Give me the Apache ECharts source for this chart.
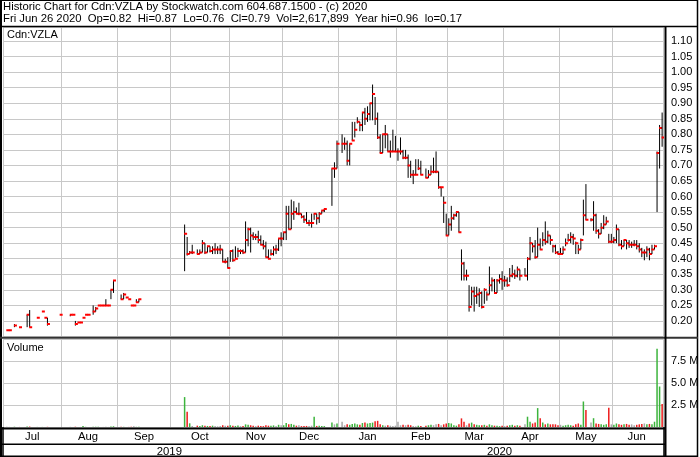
<!DOCTYPE html>
<html>
<head>
<meta charset="utf-8">
<script src="https://cdn.jsdelivr.net/npm/echarts@6/dist/echarts.min.js"></script>
<style>html,body{margin:0;padding:0;background:#fff}#c{width:700px;height:457px}</style>
</head>
<body>
<div id="c"></div>
<script>
// ---- data (one entry per weekday, 2019-07-01 .. 2020-06-26; null = no trade / holiday) ----
const startDate = '2019-07-01';
const endDate = '2020-06-26';
const monthNames = ['Jan','Feb','Mar','Apr','May','Jun','Jul','Aug','Sep','Oct','Nov','Dec'];

const highs = [
  /*Jul*/ null,.17,.17,null,.19,null,.18,null,null,.22,.235,null,null,.21,null,.23,.21,.21,null,null,null,null,.22,
  /*Aug*/ null,null,null,.22,.22,.20,.195,.195,.21,.22,.22,null,.25,.245,.25,.25,.25,.27,.25,.30,.33,null,
  /*Sep*/ null,.285,.29,.275,.27,.25,.25,.27,.27,null,null,null,null,null,null,null,null,null,null,null,null,
  /*Oct*/ null,null,null,null,null,.51,.47,.425,.445,null,.43,.43,.46,.45,.44,.44,.44,.45,.44,.445,.43,.40,.405,
  /*Nov*/ .425,.43,.44,.435,.43,.43,.52,.50,.50,.485,.48,.49,.475,.46,.455,.43,.43,.44,.445,.465,.485,
  /*Dec*/ .485,.57,.57,.59,.585,.565,.58,.545,.54,.55,.525,.545,.545,.545,.55,.555,.56,null,null,.69,.71,.78,
  /*Jan*/ null,.80,.79,.78,.77,.84,.84,.855,.84,.87,.885,.89,.90,.96,.92,.87,.80,.80,.83,.80,.78,.815,.795,
  /*Feb*/ .755,.79,.75,.75,.735,.715,.685,.72,.72,.715,null,.69,.685,.70,.725,.745,.68,.63,.60,.545,
  /*Mar*/ .53,.57,.545,.55,.55,.43,.39,.365,.315,.31,.31,.31,.305,.295,.305,.295,.375,.34,.335,.335,.35,.36,
  /*Apr*/ .345,.34,.37,.38,.365,.375,.365,null,.37,.405,.47,.45,.46,.50,.465,.485,.52,.49,.475,.445,.445,.425,
  /*May*/ .435,.44,.465,.48,.485,.48,.455,.445,.465,.59,.64,null,.53,.585,.545,.495,.515,.54,.535,.48,.48,
  /*Jun*/ .47,.51,.495,.46,.46,.46,.46,.455,.46,.46,.45,.435,.43,.44,.435,.445,.445,.745,.83,.87
];
const lows = [
  /*Jul*/ null,.17,.17,null,.18,null,.18,null,null,.18,.18,null,null,.21,null,.23,.21,.185,null,null,null,null,.22,
  /*Aug*/ null,null,null,.215,.22,.185,.195,.195,.21,.22,.22,null,.22,.23,.25,.25,.25,.25,.25,.27,.29,null,
  /*Sep*/ null,.27,.27,.275,.27,.25,.25,.26,.26,null,null,null,null,null,null,null,null,null,null,null,null,
  /*Oct*/ null,null,null,null,null,.36,.41,.415,.415,null,.415,.415,.42,.415,.42,.42,.415,.415,.415,.415,.39,.385,.37,
  /*Nov*/ .39,.39,.40,.405,.415,.415,.42,.44,.42,.46,.46,.45,.445,.43,.405,.40,.41,.41,.415,.425,.44,
  /*Dec*/ .46,.46,.495,.495,.525,.545,.54,.53,.515,.515,.505,.50,.525,.51,.515,.545,.55,null,null,.57,.66,.69,
  /*Jan*/ null,.74,.75,.70,.70,.78,.79,.835,.81,.81,.83,.84,.845,.845,.83,.785,.74,.74,.755,.745,.725,.745,.745,
  /*Feb*/ .715,.735,.72,.72,.66,.66,.64,.67,.685,.67,null,.66,.66,.67,.675,.675,.625,.60,.515,.475,
  /*Mar*/ .475,.49,.525,.535,.485,.33,.33,.33,.23,.25,.23,.255,.245,.24,.255,.265,.285,.295,.29,.29,.32,.30,
  /*Apr*/ .31,.31,.325,.34,.335,.34,.33,null,.345,.33,.395,.42,.40,.405,.43,.44,.445,.45,.445,.42,.415,.415,
  /*May*/ .415,.415,.44,.455,.45,.445,.415,.415,.43,.475,.525,null,.52,.49,.48,.465,.48,.495,.51,.45,.45,
  /*Jun*/ .45,.45,.44,.43,.44,.43,.435,.435,.44,.43,.42,.405,.395,.405,.395,.415,.43,.55,.69,.76
];
const closes = [
  /*Jul*/ null,.17,.17,null,.185,null,.18,null,null,.22,.18,null,null,.21,null,.23,.21,.19,null,null,null,null,.22,
  /*Aug*/ null,null,null,.22,.22,.19,.195,.195,.21,.22,.22,null,.23,.24,.25,.25,.25,.25,.25,.30,.33,null,
  /*Sep*/ null,.27,.285,.275,.27,.25,.25,.26,.27,null,null,null,null,null,null,null,null,null,null,null,null,
  /*Oct*/ null,null,null,null,null,.48,.415,.42,.42,null,.415,.42,.45,.42,.44,.425,.43,.43,.43,.43,.39,.39,.37,
  /*Nov*/ .425,.395,.40,.425,.425,.42,.46,.495,.475,.47,.47,.46,.445,.44,.405,.40,.415,.43,.43,.465,.465,
  /*Dec*/ .485,.545,.495,.545,.55,.545,.545,.535,.525,.515,.515,.515,.545,.53,.545,.555,.56,null,null,.69,.69,.77,
  /*Jan*/ null,.77,.77,.715,.77,.78,.815,.84,.83,.87,.85,.865,.90,.93,.85,.79,.74,.80,.80,.745,.745,.745,.745,
  /*Feb*/ .745,.745,.725,.725,.70,.67,.67,.67,.69,.67,null,.66,.67,.68,.68,.68,.63,.63,.58,.475,
  /*Mar*/ .51,.53,.54,.55,.485,.385,.345,.345,.245,.295,.28,.285,.29,.245,.30,.285,.315,.33,.29,.33,.335,.33,
  /*Apr*/ .33,.315,.345,.35,.345,.365,.345,null,.345,.40,.45,.44,.405,.445,.43,.46,.455,.475,.46,.44,.42,.415,
  /*May*/ .415,.43,.45,.46,.47,.465,.45,.43,.46,.54,.525,null,.525,.54,.49,.48,.50,.51,.52,.455,.455,
  /*Jun*/ .46,.495,.445,.44,.46,.45,.445,.445,.445,.44,.43,.42,.42,.43,.415,.43,.44,.74,.82,.79
];
const volumes = [
  /*Jul*/ null,20000,15000,null,30000,null,10000,null,null,60000,50000,null,null,10000,null,10000,10000,20000,null,null,null,null,10000,
  /*Aug*/ null,null,null,20000,10000,30000,10000,10000,100000,20000,10000,null,40000,30000,20000,10000,10000,40000,10000,60000,80000,null,
  /*Sep*/ null,30000,20000,10000,10000,30000,90000,20000,20000,null,null,null,null,null,null,null,null,null,null,null,null,
  /*Oct*/ null,null,null,null,null,3400000,1730000,420000,120000,null,150000,100000,200000,150000,120000,100000,150000,120000,80000,100000,200000,150000,150000,
  /*Nov*/ 200000,150000,120000,180000,100000,120000,300000,250000,200000,150000,100000,150000,120000,100000,200000,150000,150000,180000,100000,250000,200000,
  /*Dec*/ 200000,450000,300000,350000,250000,150000,200000,100000,100000,120000,100000,150000,1170000,120000,150000,120000,100000,null,null,500000,300000,400000,
  /*Jan*/ null,600000,200000,300000,250000,350000,400000,300000,250000,450000,500000,400000,450000,500000,650000,700000,300000,200000,150000,200000,150000,100000,150000,
  /*Feb*/ 600000,200000,250000,200000,250000,200000,100000,80000,150000,100000,null,150000,200000,250000,200000,300000,350000,200000,300000,400000,
  /*Mar*/ 450000,400000,200000,150000,300000,980000,600000,200000,400000,500000,300000,250000,200000,200000,250000,150000,300000,200000,150000,150000,100000,150000,
  /*Apr*/ 100000,150000,200000,250000,150000,200000,150000,null,300000,1170000,600000,400000,500000,2150000,1000000,500000,300000,400000,300000,300000,300000,200000,
  /*May*/ 250000,150000,200000,250000,200000,150000,300000,400000,250000,2900000,1920000,null,500000,1000000,400000,350000,300000,250000,300000,2200000,300000,
  /*Jun*/ 250000,400000,300000,250000,300000,350000,250000,300000,200000,250000,300000,350000,400000,300000,350000,300000,600000,8900000,4600000,2617899
];

const headerLine1 = 'Historic Chart for Cdn:VZLA by Stockwatch.com 604.687.1500 - (c) 2020';
const headerLine2 = 'Fri Jun 26 2020  Op=0.82  Hi=0.87  Lo=0.76  Cl=0.79  Vol=2,617,899  Year hi=0.96  lo=0.17';
const symbolLabel = 'Cdn:VZLA';
const volumeLabel = 'Volume';

// ---- build weekday categories ----
const days = [];
for (let d = new Date(startDate + 'T00:00:00Z'); d <= new Date(endDate + 'T00:00:00Z'); d.setUTCDate(d.getUTCDate() + 1)) {
  const w = d.getUTCDay();
  if (w !== 0 && w !== 6) days.push(d.toISOString().slice(0, 10));
}
const monthStarts = new Set();
const monthLabelIdx = new Set();
const yearLabelIdx = new Set();
const yearStarts = new Set();
(function () {
  let s = 0;
  for (let i = 1; i <= days.length; i++) {
    if (i === days.length || days[i].slice(0, 7) !== days[i - 1].slice(0, 7)) {
      monthStarts.add(s);
      monthLabelIdx.add(Math.floor((s + i - 1) / 2));
      s = i;
    }
  }
  let ys = 0;
  for (let i = 1; i <= days.length; i++) {
    if (i === days.length || days[i].slice(0, 4) !== days[i - 1].slice(0, 4)) {
      if (ys > 0) yearStarts.add(ys);
      yearLabelIdx.add(Math.floor((ys + i - 1) / 2));
      ys = i;
    }
  }
})();

const ohlcData = [];
const volData = [];
let prevClose = null;
for (let i = 0; i < days.length; i++) {
  if (closes[i] != null) ohlcData.push([i, highs[i], lows[i], closes[i]]);
  if (volumes[i] != null) {
    let col = '#a8a8a8';
    if (prevClose != null && closes[i] > prevClose) col = '#3cb43c';
    else if (prevClose != null && closes[i] < prevClose) col = '#ee1c1c';
    volData.push({ value: volumes[i], itemStyle: { color: col } });
  } else {
    volData.push(null);
  }
  if (closes[i] != null) prevClose = closes[i];
}

const FONT = '"Liberation Sans", Arial, sans-serif';
const gridColor = '#c8c8c8';
const GL = 3, GW = 660.4;

const chart = echarts.init(document.getElementById('c'), null, { renderer: 'canvas', width: 700, height: 457 });
const option = {
  animation: false,
  backgroundColor: '#ffffff',
  grid: [
    { left: GL, top: 27, width: GW, height: 309.5, outerBoundsMode: 'none', containLabel: false },
    { left: GL, top: 339, width: GW, height: 88, outerBoundsMode: 'none', containLabel: false }
  ],
  xAxis: [
    {
      type: 'category', gridIndex: 0, position: 'bottom', data: days, boundaryGap: true,
      axisLine: { show: false }, axisTick: { show: false }, axisLabel: { show: false },
      splitLine: { show: true, interval: (i) => monthStarts.has(i), lineStyle: { color: gridColor, width: 1 } }
    },
    {
      type: 'category', gridIndex: 1, position: 'bottom', data: days, boundaryGap: true,
      axisLine: { show: false },
      axisTick: { show: true, interval: (i) => yearStarts.has(i), length: 30, lineStyle: { color: '#000', width: 1.5 } },
      axisLabel: {
        show: true, interval: (i) => monthLabelIdx.has(i), hideOverlap: false,
        formatter: (v) => monthNames[parseInt(v.slice(5, 7), 10) - 1],
        margin: 4, fontSize: 11.3, fontFamily: FONT, color: '#000'
      },
      splitLine: { show: true, interval: (i) => monthStarts.has(i), lineStyle: { color: gridColor, width: 1 } }
    },
    {
      type: 'category', gridIndex: 1, position: 'bottom', offset: 17, data: days, boundaryGap: true,
      axisLine: { show: false }, axisTick: { show: false },
      axisLabel: {
        show: true, interval: (i) => yearLabelIdx.has(i), hideOverlap: false,
        formatter: (v) => v.slice(0, 4), margin: 2, fontSize: 11.3, fontFamily: FONT, color: '#000'
      },
      splitLine: { show: false }
    }
  ],
  yAxis: [
    {
      type: 'value', gridIndex: 0, position: 'right', min: 0.15, max: 1.145, interval: 0.05,
      axisLine: { show: false }, axisTick: { show: false },
      axisLabel: {
        margin: 7.5, fontSize: 11, fontFamily: FONT, color: '#000',
        showMinLabel: false, showMaxLabel: false,
        formatter: (v) => (v < 0.175 || v > 1.12) ? '' : v.toFixed(2)
      },
      splitLine: { show: true, lineStyle: { color: gridColor, width: 1 } }
    },
    {
      type: 'value', gridIndex: 1, position: 'right', min: 0, max: 10000000, interval: 2500000,
      axisLine: { show: false }, axisTick: { show: false },
      axisLabel: {
        margin: 7.5, fontSize: 11, fontFamily: FONT, color: '#000',
        formatter: (v) => (v <= 0 || v >= 10000000) ? '' : (v / 1e6).toFixed(1) + ' M'
      },
      splitLine: { show: true, lineStyle: { color: gridColor, width: 1 } }
    }
  ],
  series: [
    {
      type: 'custom', xAxisIndex: 0, yAxisIndex: 0, data: ohlcData,
      encode: { x: 0, y: [1, 2, 3] }, clip: true,
      renderItem: function (params, api) {
        const i = api.value(0);
        const top = api.coord([i, api.value(1)]);
        const bot = api.coord([i, api.value(2)]);
        const cl = api.coord([i, api.value(3)]);
        const x = top[0];
        const children = [];
        if (bot[1] - top[1] > 0.6) {
          children.push({ type: 'line', shape: { x1: x, y1: top[1], x2: x, y2: bot[1] }, style: { stroke: '#000', lineWidth: 1 } });
        }
        children.push({ type: 'rect', shape: { x: x - 0.5, y: cl[1] - 1, width: 3, height: 2 }, style: { fill: '#ff0000' } });
        return { type: 'group', children: children };
      }
    },
    {
      type: 'bar', xAxisIndex: 1, yAxisIndex: 1, data: volData, barWidth: 1.5, barGap: '0%'
    }
  ],
  graphic: [
    { type: 'text', x: 3, y: 1.5, z: 100, style: { text: headerLine1, font: '11.3px ' + FONT, fill: '#000', verticalAlign: 'top' } },
    { type: 'text', x: 3, y: 13.8, z: 100, style: { text: headerLine2, font: '11.3px ' + FONT, fill: '#000', verticalAlign: 'top' } },
    { type: 'text', x: 7, y: 29, z: 100, style: { text: symbolLabel, font: '11px ' + FONT, fill: '#000', verticalAlign: 'top' } },
    { type: 'text', x: 7, y: 342, z: 100, style: { text: volumeLabel, font: '11px ' + FONT, fill: '#000', verticalAlign: 'top' } },
    // frame and panel separators
    { type: 'rect', z: 100, shape: { x: 0, y: 0, width: 2, height: 457 }, style: { fill: '#000' } },
    { type: 'line', z: 100, shape: { x1: 0, y1: 0.5, x2: 698, y2: 0.5 }, style: { stroke: '#000', lineWidth: 1 } },
    { type: 'line', z: 100, shape: { x1: 697.5, y1: 0, x2: 697.5, y2: 457 }, style: { stroke: '#000', lineWidth: 1.5 } },
    { type: 'line', z: 100, shape: { x1: 0, y1: 456.3, x2: 698, y2: 456.3 }, style: { stroke: '#000', lineWidth: 1.5 } },
    { type: 'line', z: 100, shape: { x1: 0, y1: 26.5, x2: 698, y2: 26.5 }, style: { stroke: '#000', lineWidth: 1.5 } },
    { type: 'line', z: 100, shape: { x1: 0, y1: 337.7, x2: 698, y2: 337.7 }, style: { stroke: '#333', lineWidth: 2 } },
    { type: 'line', z: 100, shape: { x1: 0, y1: 428.6, x2: 665.5, y2: 428.6 }, style: { stroke: '#000', lineWidth: 2 } },
    { type: 'line', z: 100, shape: { x1: 0, y1: 444.3, x2: 665.5, y2: 444.3 }, style: { stroke: '#000', lineWidth: 1.5 } },
    { type: 'line', z: 100, shape: { x1: 665.5, y1: 26, x2: 665.5, y2: 457 }, style: { stroke: '#000', lineWidth: 2 } }
  ]
};
chart.setOption(option);
</script>
</body>
</html>
